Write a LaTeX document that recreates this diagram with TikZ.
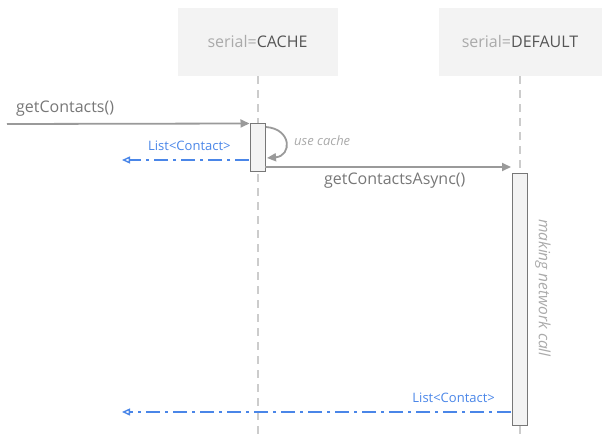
\documentclass[tikz,border=0pt]{standalone}
\usepackage{fontspec}
\setmainfont{Open Sans}
\usetikzlibrary{arrows.meta}
\definecolor{boxfill}{HTML}{F3F3F3}
\definecolor{lighttxt}{HTML}{AAAAAA}
\definecolor{darktxt}{HTML}{555555}
\definecolor{msgtxt}{HTML}{777777}
\definecolor{msgline}{HTML}{9A9A9A}
\definecolor{lifecol}{HTML}{CCCCCC}
\definecolor{actborder}{HTML}{777777}
\definecolor{gblue}{HTML}{4A86E8}
\tikzset{
  header/.style={fill=boxfill, draw=none, minimum width=160bp, minimum height=68bp, inner sep=0pt, font=\fontsize{16bp}{18bp}\selectfont},
  lifeline/.style={draw=lifecol, line width=2bp, dash pattern=on 8bp off 6bp},
  actbox/.style={fill=boxfill, draw=actborder, line width=1bp, minimum width=15bp, inner sep=0pt},
  msg/.style={draw=msgline, line width=1.8bp, -{Triangle[length=9bp,width=8bp]}},
  ret/.style={draw=gblue, line width=1.6bp, dash pattern=on 14bp off 5bp on 3bp off 5bp, -{Triangle[open,length=8bp,width=7bp,line width=1.4bp]}},
  msglabel/.style={text=msgtxt, font=\fontsize{16bp}{18bp}\selectfont, inner sep=0pt},
  retlabel/.style={text=gblue, font=\fontsize{13bp}{15bp}\selectfont, inner sep=0pt},
  note/.style={text=lighttxt, font=\fontsize{13bp}{15bp}\selectfont\itshape, inner sep=0pt}
}
\begin{document}
\begin{tikzpicture}[x=1bp,y=-1bp]
\useasboundingbox (0,0) rectangle (606,448);
% headers
\node[header] (cache) at (257.5,42) {\textcolor{lighttxt}{serial=}\textcolor{darktxt}{CACHE}};
\node[header, minimum width=163bp] (default) at (520,42) {\textcolor{lighttxt}{serial=}\textcolor{darktxt}{DEFAULT}};
% lifelines
\coordinate (cacheEnd) at (257.5,436);
\coordinate (defEnd) at (520,440);
\draw[lifeline] (cache.south) -- (cacheEnd);
\draw[lifeline] (default.south) -- (defEnd);
% activations
\node[actbox, minimum height=48bp] (actA) at (257.5,148) {};
\node[actbox, minimum height=251bp] (actB) at (520,299.5) {};
% getContacts
\coordinate (caller) at (7,124);
\draw[msg] (caller) -- (actA.north west);
\node[msglabel, anchor=west] (lblGet) at (16,108.5) {getContacts()};
% self loop
\coordinate (loopS) at (266,127);
\coordinate (loopE) at (267,158);
\draw[msg] (loopS) .. controls (292,129) and (292,156) .. (loopE);
\node[note, anchor=west] (lblCache) at (294,141) {use cache};
% first return
\coordinate (r1s) at (249,160);
\coordinate (r1e) at (122,160);
\draw[ret] (r1s) -- (r1e);
\node[retlabel, anchor=west] (lblR1) at (148,146) {List<Contact>};
% async call
\coordinate (asyncS) at (265,167);
\coordinate (asyncE) at (511,167);
\draw[msg] (asyncS) -- (asyncE);
\node[msglabel, anchor=west] (lblAsync) at (324,180.5) {getContactsAsync()};
% network note
\node[note, rotate=-90, font=\fontsize{15.5bp}{17bp}\selectfont\itshape] (lblNet) at (543,288) {making network call};
% second return
\coordinate (r2s) at (511,412);
\coordinate (r2e) at (122,412);
\draw[ret] (r2s) -- (r2e);
\node[retlabel, anchor=east] (lblR2) at (495,398) {List<Contact>};
\end{tikzpicture}
\end{document}
